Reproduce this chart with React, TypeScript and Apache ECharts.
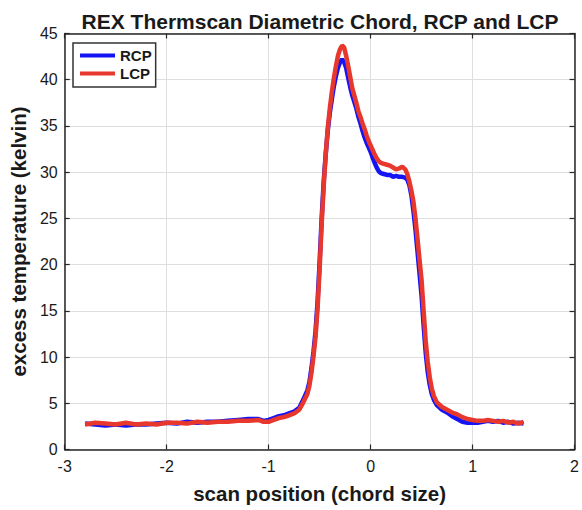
import React, { useEffect, useRef } from "react";
import * as echarts from "echarts";

const titleText = "REX Thermscan Diametric Chord, RCP and LCP";
const xName = "scan position (chord size)";
const yName = "excess temperature (kelvin)";

const xs = [
  -2.8, -2.7, -2.6, -2.5, -2.4, -2.3, -2.2, -2.1, -2.0, -1.9, -1.8, -1.7, -1.6, -1.5, -1.4, -1.3, -1.2, -1.1,
  -1.05, -1.0, -0.95, -0.9, -0.85, -0.8, -0.75, -0.7, -0.66, -0.62, -0.6, -0.58, -0.56, -0.54, -0.52, -0.5,
  -0.48, -0.46, -0.44, -0.42, -0.4, -0.38, -0.36, -0.34, -0.32, -0.3, -0.28, -0.26, -0.24, -0.22, -0.2,
  -0.18, -0.16, -0.14, -0.12, -0.1, -0.08, -0.06, -0.04, -0.02, 0.0, 0.02, 0.04, 0.06, 0.08, 0.1, 0.13,
  0.16, 0.19, 0.22, 0.25, 0.28, 0.31, 0.34, 0.36, 0.38, 0.4, 0.42, 0.44, 0.46, 0.48, 0.5, 0.52, 0.54,
  0.56, 0.58, 0.6, 0.62, 0.65, 0.7, 0.75, 0.8, 0.85, 0.9, 0.95, 1.0, 1.05, 1.1, 1.15, 1.2, 1.25, 1.3,
  1.35, 1.4, 1.45, 1.5,
];

const rcp = [
  2.8, 2.7, 2.6, 2.7, 2.6, 2.7, 2.7, 2.8, 2.9, 2.8, 3.0, 2.9, 3.0, 3.0, 3.1, 3.2, 3.3, 3.3,
  3.1, 3.2, 3.4, 3.6, 3.7, 3.9, 4.1, 4.5, 5.4, 6.4, 7.3, 8.8, 10.6, 12.8, 16.0, 20.3,
  25.0, 29.0, 32.0, 34.5, 36.4, 37.9, 39.3, 40.4, 41.3, 41.9, 42.2, 41.9, 41.3, 40.2, 39.2,
  38.3, 37.6, 36.9, 36.0, 35.3, 34.5, 33.8, 33.2, 32.7, 32.2, 31.6, 31.0, 30.5, 30.1, 29.9, 29.8,
  29.7, 29.7, 29.5, 29.6, 29.5, 29.5, 29.4, 29.2, 28.6, 27.5, 25.8, 23.8, 21.4, 19.0, 16.6, 13.4, 10.5,
  8.4, 7.0, 6.0, 5.4, 4.8, 4.3, 4.0, 3.6, 3.3, 3.0, 2.9, 2.9, 2.9, 3.0, 3.1, 3.0, 3.1, 2.9,
  3.0, 2.8, 2.9, 2.8,
];

const lcp = [
  2.7, 2.9, 2.8, 2.7, 2.9, 2.7, 2.8, 2.7, 2.9, 2.9, 2.8, 3.0, 2.9, 3.0, 3.0, 3.1, 3.1, 3.2,
  3.0, 3.0, 3.2, 3.4, 3.5, 3.7, 3.9, 4.3, 5.1, 6.0, 6.9, 8.3, 10.1, 12.2, 15.3, 19.5,
  24.4, 28.5, 31.9, 34.8, 36.9, 38.7, 40.2, 41.5, 42.6, 43.3, 43.7, 43.5, 42.6, 41.5, 40.3,
  39.1, 38.3, 37.5, 36.6, 36.0, 35.3, 34.7, 34.0, 33.4, 32.9, 32.4, 31.9, 31.5, 31.2, 31.0, 30.9,
  30.8, 30.7, 30.5, 30.3, 30.4, 30.6, 30.3, 29.8, 29.0, 28.0, 26.8, 25.0, 22.8, 20.5, 18.3, 15.0, 11.8,
  9.5, 7.8, 6.6, 5.8, 5.1, 4.6, 4.3, 4.0, 3.8, 3.5, 3.3, 3.2, 3.1, 3.1, 3.2, 3.1, 3.0, 3.1,
  2.9, 3.0, 2.8, 3.0,
];

const xTicks = { min: -3, max: 2, interval: 1 };
const yTicks = { min: 0, max: 45, interval: 5 };

const FONT = "'Liberation Sans', Arial, Helvetica, sans-serif";
const AXIS_COLOR = "#262626";
const TEXT_COLOR = "#1a1a1a";

export default function App() {
  const ref = useRef<HTMLDivElement>(null);

  useEffect(() => {
    if (!ref.current) return;
    const chart = echarts.init(ref.current, undefined, { renderer: "svg" });
    const axisLine = { show: true, onZero: false, lineStyle: { color: AXIS_COLOR, width: 1.5 } };
    const axisTick = { show: true, inside: true, length: 5, lineStyle: { color: AXIS_COLOR, width: 1.2 } };
    const splitLine = { show: true, lineStyle: { color: "#dedede", width: 1 } };
    const labelStyle = { color: TEXT_COLOR, fontSize: 16, fontFamily: FONT };

    chart.setOption({
      animation: false,
      backgroundColor: "#ffffff",
      textStyle: { fontFamily: FONT },
      title: {
        text: titleText,
        left: 315,
        textAlign: "center",
        top: 6,
        textStyle: { fontSize: 21, fontWeight: "bold", color: TEXT_COLOR, fontFamily: FONT },
      },
      legend: {
        orient: "vertical",
        left: 73,
        top: 43,
        data: ["RCP", "LCP"],
        icon: "rect",
        itemWidth: 35,
        itemHeight: 4,
        itemGap: 3,
        padding: [5, 4, 6, 7],
        borderColor: "#333333",
        borderWidth: 1.5,
        backgroundColor: "#ffffff",
        textStyle: { fontSize: 15, fontWeight: "bold", color: TEXT_COLOR, fontFamily: FONT },
      },
      grid: { left: 63, right: 7, top: 33.5, bottom: 60.5, containLabel: false },
      xAxis: [
        {
          type: "value",
          ...xTicks,
          name: xName,
          nameLocation: "middle",
          nameGap: 33,
          nameTextStyle: { fontSize: 20.5, fontWeight: "bold", color: TEXT_COLOR, fontFamily: FONT },
          axisLine,
          axisTick,
          splitLine,
          axisLabel: { ...labelStyle, margin: 9 },
        },
        {
          type: "value",
          position: "top",
          ...xTicks,
          axisLine,
          axisTick,
          splitLine: { show: false },
          axisLabel: { show: false },
        },
      ],
      yAxis: [
        {
          type: "value",
          ...yTicks,
          name: yName,
          nameLocation: "middle",
          nameGap: 33,
          nameTextStyle: { fontSize: 20.5, fontWeight: "bold", color: TEXT_COLOR, fontFamily: FONT },
          axisLine,
          axisTick,
          splitLine,
          axisLabel: { ...labelStyle, margin: 7 },
        },
        {
          type: "value",
          position: "right",
          ...yTicks,
          axisLine,
          axisTick,
          splitLine: { show: false },
          axisLabel: { show: false },
        },
      ],
      series: [
        {
          name: "RCP",
          type: "line",
          showSymbol: false,
          data: xs.map((x, i) => [x, rcp[i]]),
          lineStyle: { color: "#1414f5", width: 4.5 },
          itemStyle: { color: "#1414f5" },
          z: 2,
        },
        {
          name: "LCP",
          type: "line",
          showSymbol: false,
          data: xs.map((x, i) => [x, lcp[i]]),
          lineStyle: { color: "#e8372c", width: 4.5 },
          itemStyle: { color: "#e8372c" },
          z: 3,
        },
      ],
    });
    return () => chart.dispose();
  }, []);

  return (
    <div
      ref={ref}
      style={{ position: "fixed", left: 0, top: 0, width: 582, height: 510, background: "#fff" }}
    />
  );
}
